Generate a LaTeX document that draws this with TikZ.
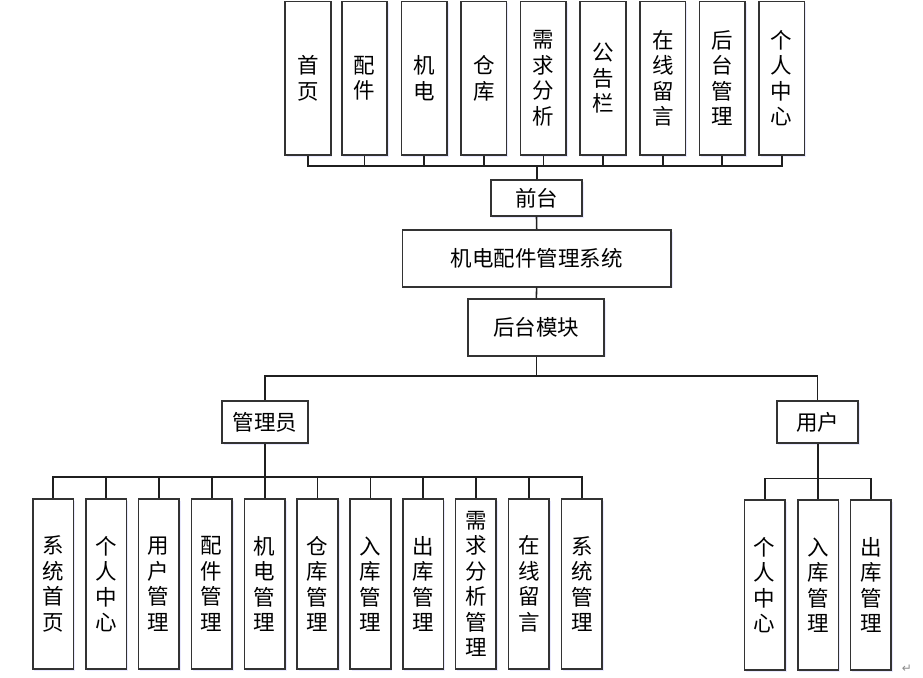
\documentclass[tikz,border=0pt]{standalone}
\usepackage{fontspec}
\setmainfont{Noto Sans CJK SC}
\newfontfamily\symfont{DejaVu Sans}
\usetikzlibrary{shadows}
\begin{document}
\begin{tikzpicture}[x=1pt,y=-1pt,
  box/.style={draw=black!80, line width=1.7pt, fill=white, inner sep=0pt,
    font=\fontsize{21.5}{25.5}\selectfont, align=center,
    drop shadow={shadow xshift=1.6pt, shadow yshift=-1.8pt, fill=blue!12, opacity=0.7}},
  topbox/.style={box, minimum width=45.5pt, minimum height=153.3pt},
  adminbox/.style={box, minimum width=40.7pt, minimum height=170.6pt},
  hbox/.style={box},
  link/.style={draw=black!88, line width=1.6pt}
]
\useasboundingbox (0,0) rectangle (923,677);

% top row
\foreach \n/\x/\t in {a/308/首\\页, b/364.5/配\\件, c/424.2/机\\电, d/483.8/仓\\库,
  e/543.3/需\\求\\分\\析, f/603/公\\告\\栏, g/662.8/在\\线\\留\\言,
  h/722.2/后\\台\\管\\理, i/781.7/个\\人\\中\\心}
  \node[topbox] (t\n) at (\x,78.3) {\t};

\node[hbox, minimum width=91.6pt, minimum height=35.7pt] (qt) at (536.5,197.9) {前台};
\node[hbox, minimum width=268.7pt, minimum height=56.7pt] (sys) at (536.7,258.3) {机电配件管理系统};
\node[hbox, minimum width=136pt, minimum height=56.7pt] (ht) at (536.3,327.3) {后台模块};
\node[hbox, minimum width=85.4pt, minimum height=42.6pt] (adm) at (265,422) {管理员};
\node[hbox, minimum width=81.6pt, minimum height=42.6pt] (usr) at (817.5,422) {用户};

% admin children
\foreach \n/\x/\t in {1/53/系\\统\\首\\页, 2/106/个\\人\\中\\心, 3/158.7/用\\户\\管\\理,
  4/211.7/配\\件\\管\\理, 5/264.7/机\\电\\管\\理, 6/317.6/仓\\库\\管\\理,
  7/370.3/入\\库\\管\\理, 8/423/出\\库\\管\\理, 9/475.9/需\\求\\分\\析\\管\\理,
  10/528.8/在\\线\\留\\言, 11/581.8/系\\统\\管\\理}
  \node[adminbox] (m\n) at (\x,584) {\t};

% user children
\foreach \n/\x/\t in {1/764.7/个\\人\\中\\心, 2/818/入\\库\\管\\理, 3/870.8/出\\库\\管\\理}
  \node[adminbox] (u\n) at (\x,585) {\t};

% connectors
\coordinate (topbus) at (536.5,165.7);
\foreach \n in {a,b,c,d,e,f,g,h,i}
  \draw[link] (qt.north) -- (topbus) -| (t\n.south);
\draw[link, line width=2pt] (qt.north) -- (topbus);
\draw[link] (qt.south) -- (sys.north);
\draw[link] (sys.south) -- (ht.north);
\coordinate (midbus) at (536.3,375.7);
\draw[link] (ht.south) -- (midbus) -| (adm.north);
\draw[link] (ht.south) -- (midbus) -| (usr.north);
\coordinate (admbus) at (265,476.7);
\foreach \n in {1,...,11}
  \draw[link] (adm.south) -- (admbus) -| (m\n.north);
\draw[link, line width=2pt] (adm.south) -- (admbus);
\coordinate (usrbus) at (817.5,478.3);
\foreach \n in {1,2,3}
  \draw[link] (usr.south) -- (usrbus) -| (u\n.north);
\draw[link, line width=2pt] (usr.south) -- (usrbus);

\node[text=black!45, font=\symfont\fontsize{12}{12}\selectfont, inner sep=0pt] (ret) at (907,669) {↵};
\end{tikzpicture}
\end{document}
